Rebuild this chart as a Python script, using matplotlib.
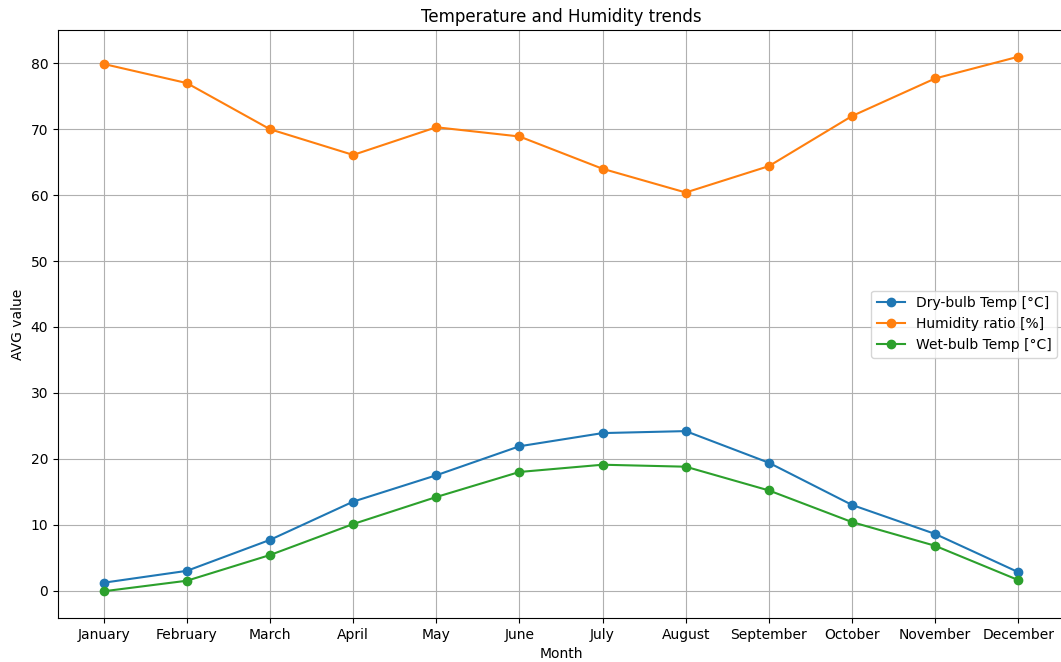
import matplotlib
matplotlib.use("Agg")
import matplotlib.pyplot as plt

months = ["January", "February", "March", "April", "May", "June",
          "July", "August", "September", "October", "November", "December"]
dry_bulb = [1.2, 3.0, 7.7, 13.5, 17.5, 21.9, 23.9, 24.2, 19.4, 13.0, 8.6, 2.8]
humidity = [79.9, 77.0, 70.0, 66.1, 70.3, 68.9, 64.0, 60.4, 64.4, 72.0, 77.7, 81.0]
wet_bulb = [-0.1, 1.5, 5.4, 10.1, 14.2, 18.0, 19.1, 18.8, 15.2, 10.4, 6.8, 1.6]

fig, ax = plt.subplots(figsize=(10.61, 6.62), dpi=100)
ax.plot(months, dry_bulb, marker="o", label="Dry-bulb Temp [°C]")
ax.plot(months, humidity, marker="o", label="Humidity ratio [%]")
ax.plot(months, wet_bulb, marker="o", label="Wet-bulb Temp [°C]")

ax.set_title("Temperature and Humidity trends")
ax.set_xlabel("Month")
ax.set_ylabel("AVG value")
ax.legend(loc="center right")
ax.grid(True)

# axes runs a few pixels past the right edge, as in the reference crop
fig.subplots_adjust(left=58 / 1061, right=1064 / 1061, top=1 - 30 / 662, bottom=1 - 618 / 662)
fig.savefig("out.png", dpi=100)
